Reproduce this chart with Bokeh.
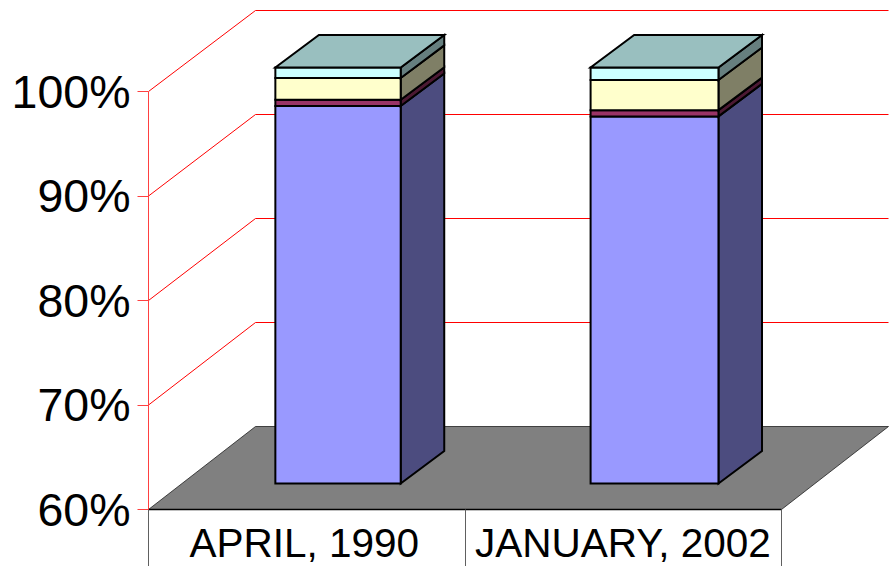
from bokeh.embed import file_html
from bokeh.models import ColumnDataSource, FixedTicker, LinearAxis, Range1d
from bokeh.plotting import figure
from bokeh.resources import INLINE

# Survey dates and stacked shares (percent), bottom to top
categories = ["APRIL, 1990", "JANUARY, 2002"]
series_blue = [96.3, 95.3]
series_purple = [0.6, 0.6]
series_yellow = [2.1, 2.9]
series_cyan = [1.0, 1.2]
percent_ticks = [60, 70, 80, 90, 100]

# Front, side colours per series; the uppermost series also colours the lid
series = [
    (series_blue, "#9999FF", "#4C4C7F"),
    (series_purple, "#993366", "#4C1933"),
    (series_yellow, "#FFFFCC", "#7F7F66"),
    (series_cyan, "#CCFFFF", "#667F7F"),
]
LID_COLOR = "#99BFBF"

# Axis scale: pixels per category and per percentage point
W, H = 892, 566
ORIGIN_X, ORIGIN_Y = 148, 509
PX_PER_CAT = 316.5
PX_PER_PCT = 10.45
BASE = 60

# Oblique projection of the depth axis, expressed in data units
DEPTH_X = 107 / PX_PER_CAT
RISE_FLOOR = 83 / PX_PER_PCT
RISE_TOP = 81 / PX_PER_PCT
BOX_SCALE = 0.9952


def wall_point(x, pct, depth=0.0):
    t = (pct - BASE) / 40
    rise = RISE_FLOOR + (RISE_TOP - RISE_FLOOR) * t
    return x + DEPTH_X * depth, pct + rise * depth


def box_point(x, pct, depth_x, depth_y):
    return x + DEPTH_X * depth_x, BASE + (pct - BASE) * BOX_SCALE + RISE_FLOOR * depth_y


def wall_poly(points):
    xs, ys = zip(*[wall_point(*pt) for pt in points])
    return list(xs), list(ys)


def box_poly(points):
    xs, ys = zip(*[box_point(*pt) for pt in points])
    return list(xs), list(ys)


p = figure(
    width=W, height=H, output_backend="svg", toolbar_location=None,
    x_range=Range1d(-ORIGIN_X / PX_PER_CAT, (W - ORIGIN_X) / PX_PER_CAT),
    y_range=Range1d(BASE - (H - ORIGIN_Y) / PX_PER_PCT, BASE + ORIGIN_Y / PX_PER_PCT),
    min_border=0, x_axis_type=None, y_axis_type=None,
)
p.grid.visible = False
p.outline_line_color = None
p.background_fill_color = "white"
p.border_fill_color = "white"

n_cat = len(categories)

# Side-wall diagonals and back-wall gridlines
for tick in percent_ticks[1:]:
    xs, ys = wall_poly([(0, tick), (0, tick, 1), (n_cat, tick, 1)])
    p.line(xs, ys, line_color="#FF0000", line_width=1)

# Floor
xs, ys = wall_poly([(0, BASE), (0, BASE, 1), (n_cat, BASE, 1), (n_cat, BASE)])
p.patch(xs, ys, fill_color="#808080", line_color="#202020", line_width=0.8)

# Stacked boxes
BAR_EDGES = [(0.295, 0.691), (1.291, 1.695)]
FRONT = (0.313, 0.313)
BACK = (0.72, 0.705)

for i, (left, right) in enumerate(BAR_EDGES):
    total = 0.0
    patches = {"xs": [], "ys": [], "color": []}
    for values, front, side in series:
        bottom = max(total, BASE)
        total += values[i]
        top = total
        # side face first so the front outline stays on top
        xs, ys = box_poly([
            (right, bottom, *FRONT), (right, bottom, *BACK),
            (right, top, *BACK), (right, top, *FRONT),
        ])
        patches["xs"].append(xs); patches["ys"].append(ys); patches["color"].append(side)
        xs, ys = box_poly([
            (left, bottom, *FRONT), (right, bottom, *FRONT),
            (right, top, *FRONT), (left, top, *FRONT),
        ])
        patches["xs"].append(xs); patches["ys"].append(ys); patches["color"].append(front)
    xs, ys = box_poly([
        (left, total, *FRONT), (right, total, *FRONT),
        (right, total, *BACK), (left, total, *BACK),
    ])
    patches["xs"].append(xs); patches["ys"].append(ys); patches["color"].append(LID_COLOR)
    p.patches("xs", "ys", source=ColumnDataSource(patches), fill_color="color",
              line_color="black", line_width=2, line_join="miter")

# Percentage axis on the front-left edge
y_axis = LinearAxis(
    fixed_location=0, bounds=(60, 100),
    ticker=FixedTicker(ticks=percent_ticks),
    major_label_overrides={t: f"{t}%" for t in percent_ticks},
    axis_line_color="#FF4040", axis_line_width=1,
    major_tick_line_color="#FF4040", major_tick_line_width=1,
    major_tick_out=11, major_tick_in=0,
    minor_tick_line_color=None,
    major_label_standoff=7,
    major_label_text_font="Liberation Sans",
    major_label_text_font_size="46.5px",
    major_label_text_color="black",
)
p.add_layout(y_axis, "left")

# Category axis along the front floor edge, separators drawn as minor ticks
label_positions = [0.492, 1.499]
x_axis = LinearAxis(
    fixed_location=BASE, bounds=(0, n_cat),
    ticker=FixedTicker(ticks=label_positions, minor_ticks=list(range(n_cat + 1))),
    major_label_overrides=dict(zip(label_positions, categories)),
    axis_line_color="black", axis_line_width=1.5,
    major_tick_line_color=None, major_tick_out=0, major_tick_in=0,
    minor_tick_line_color="#606060", minor_tick_line_width=1,
    minor_tick_out=57, minor_tick_in=0,
    major_label_standoff=-47,
    major_label_text_font="Liberation Sans",
    major_label_text_font_size="40.5px",
    major_label_text_color="black",
)
p.add_layout(x_axis, "below")

open("out.html", "w").write(file_html(p, INLINE))
